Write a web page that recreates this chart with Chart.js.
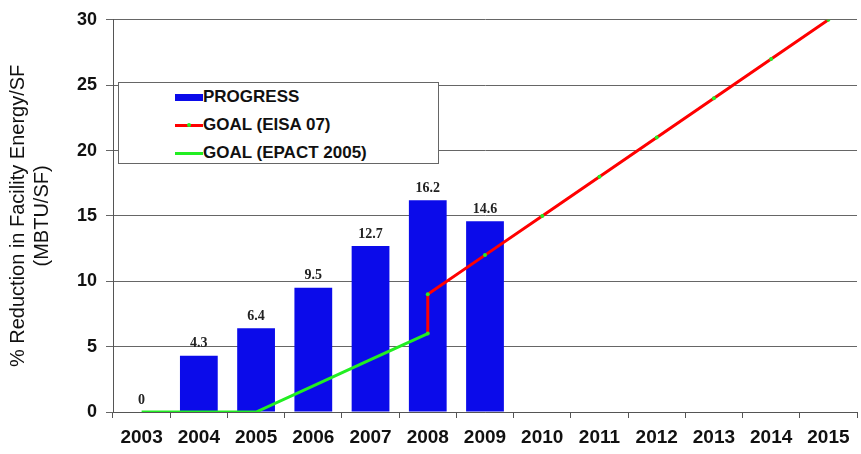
<!DOCTYPE html>
<html>
<head>
<meta charset="utf-8">
<script src="https://cdn.jsdelivr.net/npm/chart.js@4"></script>
<style>
  body { margin: 0; background: #fff; }
  #wrap { position: relative; width: 861px; height: 454px; }
  #legend {
    position: absolute; left: 118px; top: 82px; width: 321px; height: 82px;
    background: #fff; border: 1px solid #666; box-sizing: border-box;
    font: bold 17px "Liberation Sans", Arial, sans-serif; color: #111;
  }
  .item { position: absolute; left: 56px; height: 20px; line-height: 20px; white-space: nowrap; }
  .sym { display: inline-block; width: 28px; vertical-align: middle; position: relative; }
</style>
</head>
<body>
<div id="wrap">
  <canvas id="chart" width="861" height="454"></canvas>
  <div id="legend">
    <div class="item" style="top:4px"><span class="sym" style="height:7px;background:#0b0bea"></span>PROGRESS</div>
    <div class="item" style="top:32px"><span class="sym" style="height:3px;background:#f00"><span style="position:absolute;left:12px;top:-1px;width:4px;height:4px;border-radius:2px;background:#2e2"></span></span>GOAL (EISA 07)</div>
    <div class="item" style="top:60px"><span class="sym" style="height:3px;background:#2e2"></span>GOAL (EPACT 2005)</div>
  </div>
</div>
<script>
const years = ['2003', '2004', '2005', '2006', '2007', '2008', '2009', '2010', '2011', '2012', '2013', '2014', '2015'];
const progress = [0, 4.3, 6.4, 9.5, 12.7, 16.2, 14.6, null, null, null, null, null, null];
const epactGoal = [0, 0, 0, 2, 4, 6, null, null, null, null, null, null, null];
const eisaYears = ['2008', '2008', '2009', '2010', '2011', '2012', '2013', '2014', '2015'];
const eisaGoal = [6, 9, 12, 15, 18, 21, 24, 27, 30];
const yTicks = [0, 5, 10, 15, 20, 25, 30];

// value labels above the bars
const barLabels = {
  id: 'barLabels',
  afterDatasetsDraw(chart) {
    const ctx = chart.ctx;
    const meta = chart.getDatasetMeta(2);
    ctx.save();
    ctx.font = 'bold 14px "Liberation Serif", "Times New Roman", serif';
    ctx.fillStyle = '#222';
    ctx.textAlign = 'center';
    ctx.textBaseline = 'bottom';
    meta.data.forEach((bar, i) => {
      if (progress[i] === null) return;
      ctx.fillText(String(progress[i]), bar.x, bar.y - 5);
    });
    ctx.restore();
  }
};

new Chart(document.getElementById('chart'), {
  data: {
    labels: years,
    datasets: [
      {
        type: 'line', label: 'GOAL (EISA 07)', order: 1,
        data: eisaYears.map((y, i) => ({ x: y, y: eisaGoal[i] })),
        borderColor: '#f00', borderWidth: 3,
        pointRadius: 2, pointBackgroundColor: '#2e2', pointBorderWidth: 0,
        tension: 0
      },
      {
        type: 'line', label: 'GOAL (EPACT 2005)', order: 2,
        data: epactGoal,
        borderColor: '#2e2', borderWidth: 3, pointRadius: 0, tension: 0
      },
      {
        type: 'bar', label: 'PROGRESS', order: 3,
        data: progress,
        backgroundColor: '#0b0bea',
        categoryPercentage: 1, barPercentage: 0.66
      }
    ]
  },
  options: {
    responsive: false,
    animation: false,
    layout: { padding: { top: 17, right: 1, left: 0, bottom: 0 } },
    plugins: { legend: { display: false }, tooltip: { enabled: false } },
    scales: {
      x: {
        type: 'category',
        offset: true,
        grid: { offset: true, drawOnChartArea: false, drawTicks: true, tickLength: 6, color: '#555' },
        border: { color: '#555' },
        ticks: { color: '#111', padding: 8, font: { family: '"Liberation Sans", Arial', size: 19, weight: 'bold' }, maxRotation: 0 },
        afterFit(s) { s.height = 42; }
      },
      y: {
        min: 0, max: 30,
        afterBuildTicks(s) { s.ticks = yTicks.map(v => ({ value: v })); },
        grid: { color: '#666', tickLength: 7 },
        border: { color: '#555' },
        ticks: { color: '#111', padding: 9, font: { family: '"Liberation Sans", Arial', size: 18, weight: 'bold' } },
        title: {
          display: true,
          text: ['% Reduction in Facility Energy/SF', '(MBTU/SF)'],
          color: '#111',
          padding: { top: 6, bottom: 0 },
          font: { family: '"Liberation Sans", Arial', size: 20, lineHeight: 1.2 }
        },
        afterFit(s) { s.width = 113; }
      }
    }
  },
  plugins: [barLabels]
});
</script>
</body>
</html>
